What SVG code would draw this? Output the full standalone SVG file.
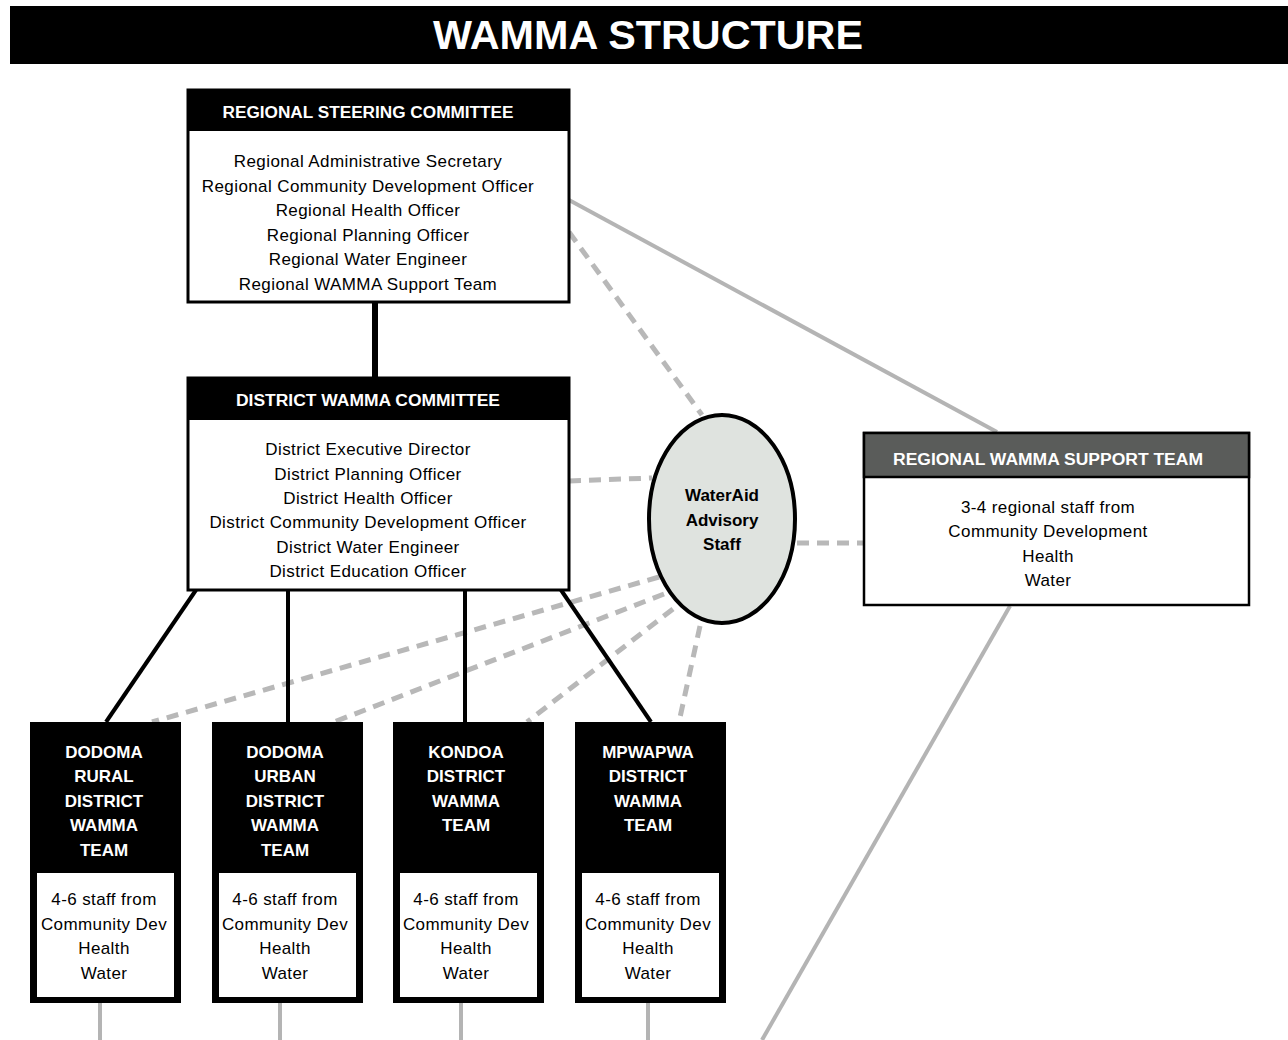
<svg xmlns="http://www.w3.org/2000/svg" width="1288" height="1040" viewBox="0 0 1288 1040">
<style>
.box{fill:#fff;stroke:#000;stroke-width:3}
.hdr{fill:#000}
.ht{font-family:"Liberation Sans",Arial,sans-serif;font-weight:bold;font-size:16px;fill:#fff;text-anchor:middle}
.tt{font-family:"Liberation Sans",Arial,sans-serif;font-weight:bold;font-size:17px;fill:#fff;text-anchor:middle}
.et{font-family:"Liberation Sans",Arial,sans-serif;font-weight:bold;font-size:17px;fill:#000;text-anchor:middle}
.bt{font-family:"Liberation Sans",Arial,sans-serif;font-size:17px;letter-spacing:0.4px;fill:#000;text-anchor:middle}
.solid{stroke:#000;stroke-width:4;fill:none}
.gray{stroke:#b4b4b4;stroke-width:4;fill:none}
.dash{stroke:#b8b8b8;stroke-width:5;stroke-dasharray:12 8;fill:none}
</style>
<rect width="1288" height="1040" fill="#fff"/>
<g id="title">
<rect x="10" y="6" width="1278" height="58" fill="#000"/>
<text x="648" y="49" font-family="Liberation Sans,Arial,sans-serif" font-weight="bold" font-size="41" fill="#fff" text-anchor="middle" textLength="430" lengthAdjust="spacingAndGlyphs">WAMMA STRUCTURE</text>
</g>
<g id="connectors">
<line class="gray" x1="569" y1="200" x2="997" y2="432"/>
<line class="gray" x1="1010" y1="606" x2="762" y2="1040"/>
<line class="gray" x1="100" y1="1003" x2="100" y2="1040"/>
<line class="gray" x1="280" y1="1003" x2="280" y2="1040"/>
<line class="gray" x1="461" y1="1003" x2="461" y2="1040"/>
<line class="gray" x1="648" y1="1003" x2="648" y2="1040"/>
<line class="dash" x1="569" y1="232" x2="702" y2="415"/>
<line class="dash" x1="569" y1="481" x2="652" y2="478"/>
<line class="dash" x1="797" y1="543" x2="863" y2="543"/>
<line class="dash" x1="659" y1="577" x2="152" y2="722"/>
<line class="dash" x1="664" y1="594" x2="334" y2="722"/>
<line class="dash" x1="673" y1="609" x2="527" y2="722"/>
<line class="dash" x1="700" y1="626" x2="679" y2="722"/>
<line x1="375" y1="302" x2="375" y2="377" stroke="#000" stroke-width="6"/>
<line class="solid" x1="196" y1="590" x2="106" y2="722"/>
<line class="solid" x1="288" y1="590" x2="288" y2="722"/>
<line class="solid" x1="465" y1="590" x2="465" y2="722"/>
<line class="solid" x1="561" y1="590" x2="651" y2="722"/>
</g>
<g id="regional-steering-committee">
<rect class="box" x="188" y="90" width="381" height="212"/>
<rect class="hdr" x="188" y="90" width="381" height="41"/>
<text class="ht" x="368" y="118" textLength="291" lengthAdjust="spacingAndGlyphs">REGIONAL STEERING COMMITTEE</text>
<text class="bt" x="368" y="167">Regional Administrative Secretary</text>
<text class="bt" x="368" y="192">Regional Community Development Officer</text>
<text class="bt" x="368" y="216">Regional Health Officer</text>
<text class="bt" x="368" y="241">Regional Planning Officer</text>
<text class="bt" x="368" y="265">Regional Water Engineer</text>
<text class="bt" x="368" y="290">Regional WAMMA Support Team</text>
</g>
<g id="district-wamma-committee">
<rect class="box" x="188" y="378" width="381" height="212"/>
<rect class="hdr" x="188" y="378" width="381" height="42"/>
<text class="ht" x="368" y="406" textLength="264" lengthAdjust="spacingAndGlyphs">DISTRICT WAMMA COMMITTEE</text>
<text class="bt" x="368" y="455">District Executive Director</text>
<text class="bt" x="368" y="480">District Planning Officer</text>
<text class="bt" x="368" y="504">District Health Officer</text>
<text class="bt" x="368" y="528">District Community Development Officer</text>
<text class="bt" x="368" y="553">District Water Engineer</text>
<text class="bt" x="368" y="577">District Education Officer</text>
</g>
<g id="wateraid-advisory-staff">
<ellipse cx="722" cy="519" rx="73" ry="104" fill="#dfe3df" stroke="#000" stroke-width="4"/>
<text class="et" x="722" y="501">WaterAid</text>
<text class="et" x="722" y="526">Advisory</text>
<text class="et" x="722" y="550">Staff</text>
</g>
<g id="regional-wamma-support-team">
<rect class="box" x="864" y="433" width="385" height="172" style="stroke-width:2.5"/>
<rect x="864" y="433" width="385" height="44" fill="#5a5c5a" stroke="#000" stroke-width="2.5"/>
<text class="ht" x="1048" y="465" textLength="310" lengthAdjust="spacingAndGlyphs">REGIONAL WAMMA SUPPORT TEAM</text>
<text class="bt" x="1048" y="513">3-4 regional staff from</text>
<text class="bt" x="1048" y="537">Community Development</text>
<text class="bt" x="1048" y="562">Health</text>
<text class="bt" x="1048" y="586">Water</text>
</g>
<g id="dodoma-rural">
<rect x="30" y="722" width="151" height="281" fill="#000"/>
<rect x="37" y="873" width="137" height="124" fill="#fff"/>
<text class="tt" x="104" y="758">DODOMA</text>
<text class="tt" x="104" y="782">RURAL</text>
<text class="tt" x="104" y="807">DISTRICT</text>
<text class="tt" x="104" y="831">WAMMA</text>
<text class="tt" x="104" y="856">TEAM</text>
<text class="bt" x="104" y="905">4-6 staff from</text>
<text class="bt" x="104" y="930">Community Dev</text>
<text class="bt" x="104" y="954">Health</text>
<text class="bt" x="104" y="979">Water</text>
</g>
<g id="dodoma-urban">
<rect x="212" y="722" width="151" height="281" fill="#000"/>
<rect x="219" y="873" width="137" height="124" fill="#fff"/>
<text class="tt" x="285" y="758">DODOMA</text>
<text class="tt" x="285" y="782">URBAN</text>
<text class="tt" x="285" y="807">DISTRICT</text>
<text class="tt" x="285" y="831">WAMMA</text>
<text class="tt" x="285" y="856">TEAM</text>
<text class="bt" x="285" y="905">4-6 staff from</text>
<text class="bt" x="285" y="930">Community Dev</text>
<text class="bt" x="285" y="954">Health</text>
<text class="bt" x="285" y="979">Water</text>
</g>
<g id="kondoa">
<rect x="393" y="722" width="151" height="281" fill="#000"/>
<rect x="400" y="873" width="137" height="124" fill="#fff"/>
<text class="tt" x="466" y="758">KONDOA</text>
<text class="tt" x="466" y="782">DISTRICT</text>
<text class="tt" x="466" y="807">WAMMA</text>
<text class="tt" x="466" y="831">TEAM</text>
<text class="bt" x="466" y="905">4-6 staff from</text>
<text class="bt" x="466" y="930">Community Dev</text>
<text class="bt" x="466" y="954">Health</text>
<text class="bt" x="466" y="979">Water</text>
</g>
<g id="mpwapwa">
<rect x="575" y="722" width="151" height="281" fill="#000"/>
<rect x="582" y="873" width="137" height="124" fill="#fff"/>
<text class="tt" x="648" y="758">MPWAPWA</text>
<text class="tt" x="648" y="782">DISTRICT</text>
<text class="tt" x="648" y="807">WAMMA</text>
<text class="tt" x="648" y="831">TEAM</text>
<text class="bt" x="648" y="905">4-6 staff from</text>
<text class="bt" x="648" y="930">Community Dev</text>
<text class="bt" x="648" y="954">Health</text>
<text class="bt" x="648" y="979">Water</text>
</g>
</svg>
